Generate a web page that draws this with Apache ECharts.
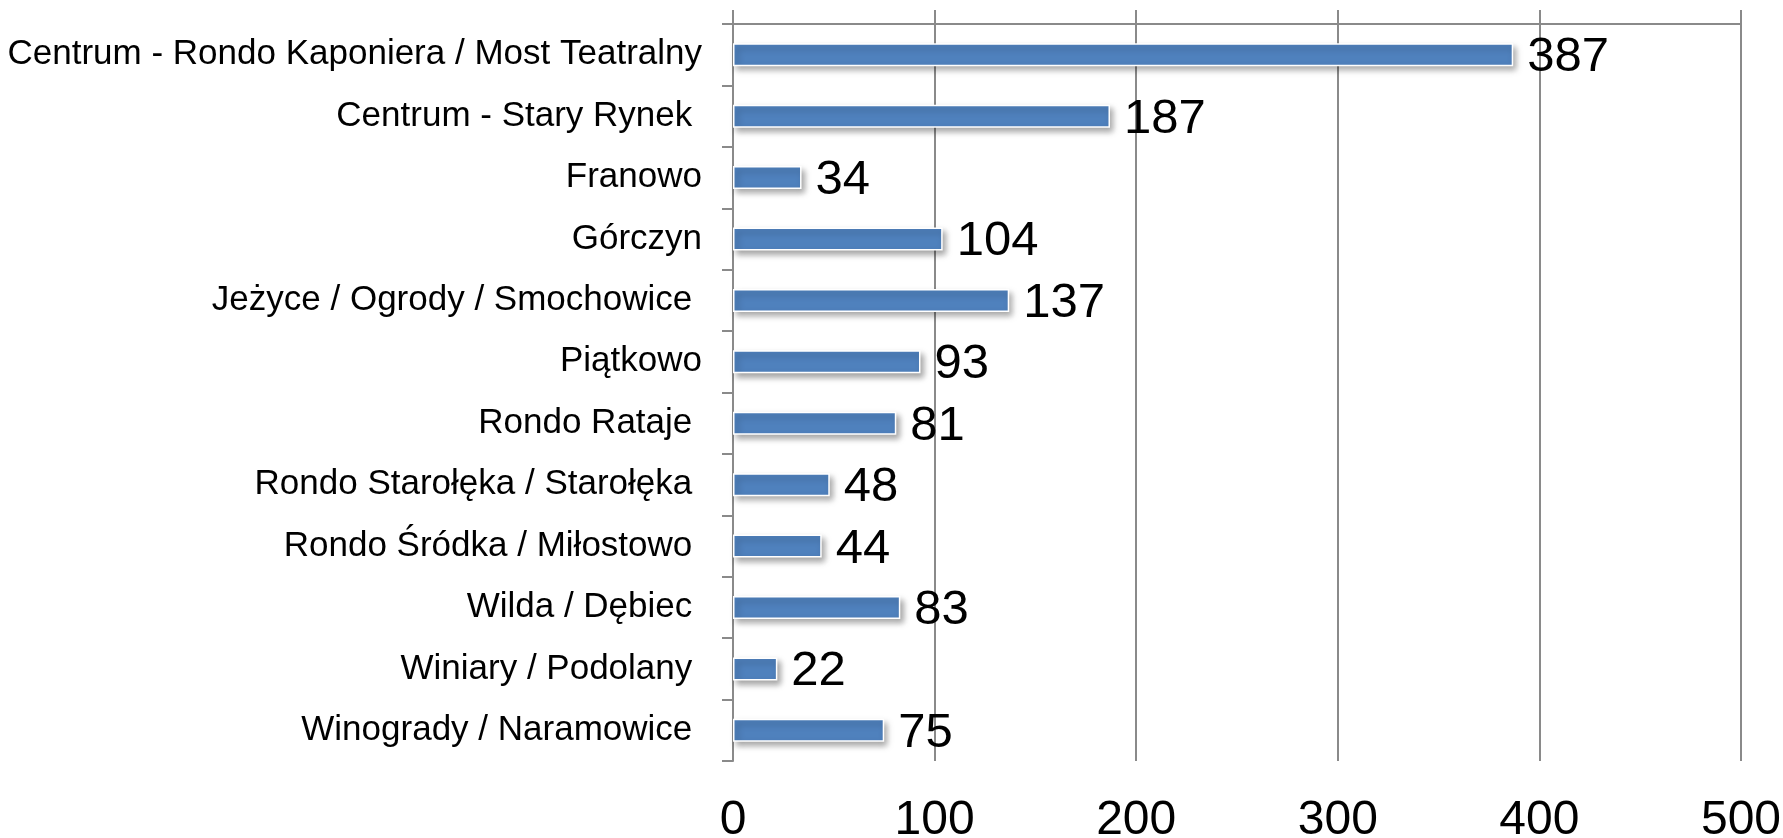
<!DOCTYPE html>
<html>
<head>
<meta charset="utf-8">
<script src="https://cdn.jsdelivr.net/npm/echarts@6/dist/echarts.min.js"></script>
<style>
  html, body { margin: 0; padding: 0; background: #fff; }
  #chart { width: 1783px; height: 838px; }
</style>
</head>
<body>
<div id="chart"></div>
<script>
// dzielnice (kolejność od góry)
const districts = [
  "Centrum - Rondo Kaponiera / Most Teatralny",
  "Centrum - Stary Rynek ",
  "Franowo",
  "Górczyn",
  "Jeżyce / Ogrody / Smochowice ",
  "Piątkowo",
  "Rondo Rataje ",
  "Rondo Starołęka / Starołęka ",
  "Rondo Śródka / Miłostowo ",
  "Wilda / Dębiec ",
  "Winiary / Podolany ",
  "Winogrady / Naramowice "
];
const counts = [387, 187, 34, 104, 137, 93, 81, 48, 44, 83, 22, 75];
const valueTicks = [0, 100, 200, 300, 400, 500];

const font = 'Arial, "Liberation Sans", sans-serif';
const lineColor = "#8a8a8a";

const chart = echarts.init(document.getElementById("chart"));

chart.setOption({
  animation: false,
  grid: {
    left: 733, right: 42, top: 24, bottom: 77,
    containLabel: false,
    outerBoundsMode: "none"
  },
  xAxis: [
    {
      // oś u góry: linia, kreski i linie siatki
      type: "value",
      position: "top",
      min: valueTicks[0],
      max: valueTicks[valueTicks.length - 1],
      interval: 100,
      axisLine: { show: true, lineStyle: { color: lineColor, width: 2 } },
      axisTick: { show: true, length: 14, lineStyle: { color: lineColor, width: 2 } },
      axisLabel: { show: false },
      splitLine: { show: true, lineStyle: { color: lineColor, width: 2 } }
    },
    {
      // etykiety na dole
      type: "value",
      position: "bottom",
      min: valueTicks[0],
      max: valueTicks[valueTicks.length - 1],
      interval: 100,
      axisLine: { show: false },
      axisTick: { show: false },
      splitLine: { show: false },
      axisLabel: { color: "#000", fontSize: 48, fontFamily: font, margin: 36 }
    }
  ],
  yAxis: {
    type: "category",
    inverse: true,
    data: districts,
    axisLine: { show: true, lineStyle: { color: lineColor, width: 2 } },
    axisTick: { show: true, length: 11, lineStyle: { color: lineColor, width: 2 } },
    axisLabel: { color: "#000", fontSize: 35, fontFamily: font, margin: 31 },
    splitLine: { show: false }
  },
  series: [
    {
      type: "bar",
      xAxisIndex: 0,
      data: counts,
      barWidth: 23,
      itemStyle: {
        color: "#4F81BD",
        borderColor: "#ffffff",
        borderWidth: 1.5,
        shadowColor: "rgba(0,0,0,0.35)",
        shadowBlur: 6,
        shadowOffsetX: 3,
        shadowOffsetY: 4
      },
      label: {
        show: true,
        position: "right",
        distance: 14,
        offset: [0, 3],
        color: "#000",
        fontSize: 49,
        fontFamily: font
      }
    }
  ]
});
</script>
</body>
</html>
